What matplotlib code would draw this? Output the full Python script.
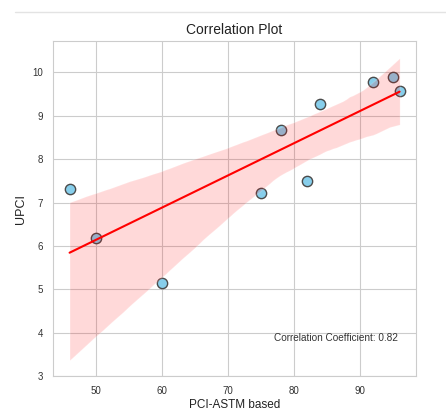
import numpy as np
import matplotlib
matplotlib.use('Agg')
import matplotlib.pyplot as plt
from matplotlib.lines import Line2D
import seaborn as sns

# PCI (ASTM based) vs UPCI readings
pci_astm = [46, 50, 60, 75, 78, 82, 84, 92, 95, 96]
upci = [7.30, 6.19, 5.15, 7.21, 8.67, 7.50, 9.27, 9.78, 9.90, 9.58]

sns.set_style('whitegrid')
plt.rcParams['font.family'] = ['Liberation Sans', 'DejaVu Sans']

fig = plt.figure(figsize=(4.46, 4.11), dpi=100)
ax = fig.add_axes([0.119, 0.085, 0.814, 0.815])

sns.regplot(x=pci_astm, y=upci, ax=ax, seed=3,
            scatter_kws={'color': 'skyblue', 'edgecolor': '#4a4a4a', 's': 55, 'linewidths': 1, 'alpha': 1},
            line_kws={'color': 'red', 'linewidth': 1.5})

r = np.corrcoef(pci_astm, upci)[0, 1]
ax.text(0.95, 0.1, f'Correlation Coefficient: {r:.2f}', transform=ax.transAxes,
        ha='right', va='bottom', fontsize=7.2, color='#333333')

ax.set_ylim(3.0, 10.72)
ax.set_title('Correlation Plot', fontsize=10, color='#222222', pad=5)
ax.set_xlabel('PCI-ASTM based', fontsize=8.5, color='#222222', labelpad=2)
ax.set_ylabel('UPCI', fontsize=9, color='#222222')
ax.tick_params(labelsize=7, colors='#333333')

# separator line of the notebook cell above
fig.add_artist(Line2D([15 / 446, 1], [1 - 12 / 411] * 2, transform=fig.transFigure,
                      color='#e3e3e3', lw=1))

fig.savefig('out.png', dpi=100)
